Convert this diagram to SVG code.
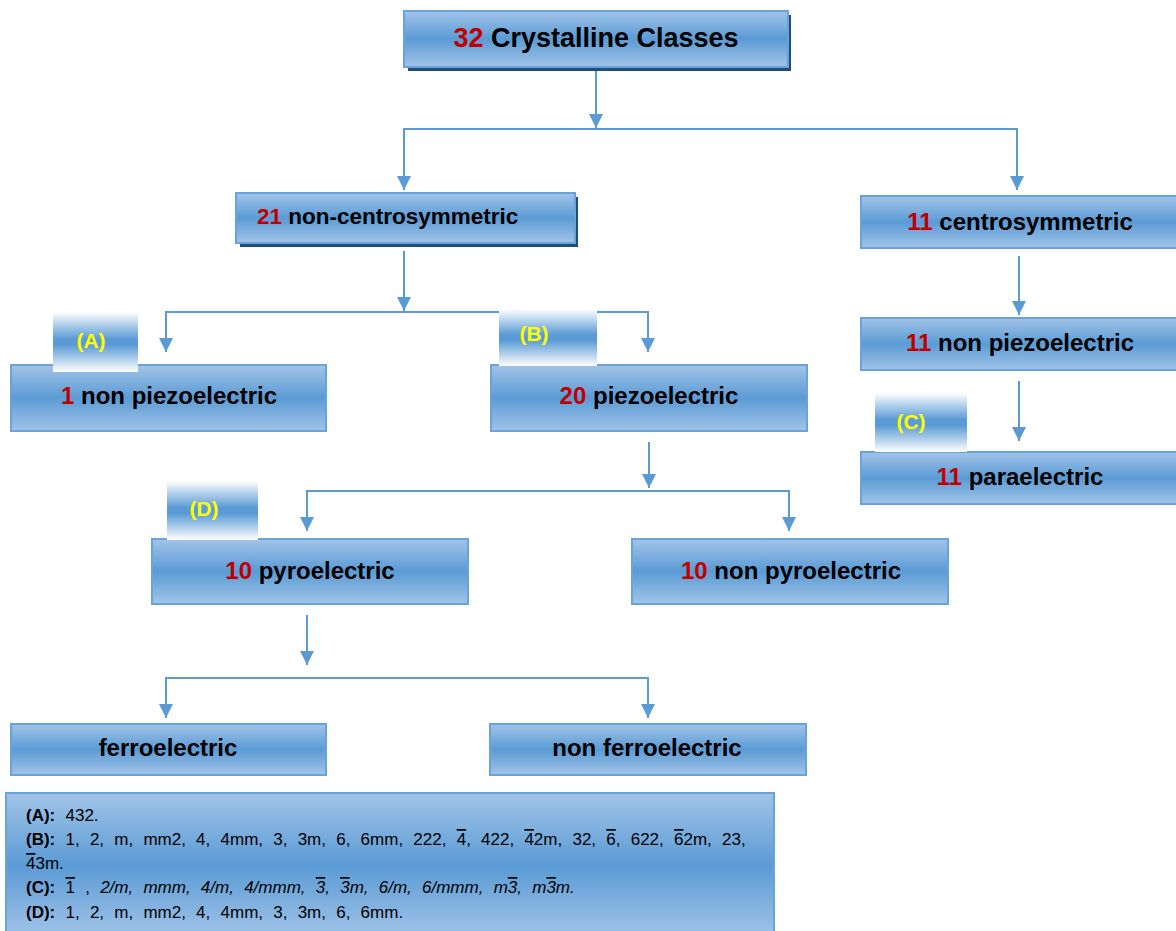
<svg xmlns="http://www.w3.org/2000/svg" width="1176" height="931" viewBox="0 0 1176 931">
<defs>
<linearGradient id="boxg" x1="0" y1="0" x2="0" y2="1">
<stop offset="0" stop-color="#a2c4e8"/>
<stop offset="0.5" stop-color="#5b9bd5"/>
<stop offset="1" stop-color="#a2c4e8"/>
</linearGradient>
<linearGradient id="labg" x1="0" y1="0" x2="0" y2="1">
<stop offset="0" stop-color="#ffffff"/>
<stop offset="0.45" stop-color="#5b9bd5"/>
<stop offset="0.55" stop-color="#5b9bd5"/>
<stop offset="1" stop-color="#ffffff"/>
</linearGradient>
<marker id="arr" markerUnits="userSpaceOnUse" markerWidth="16" markerHeight="16" refX="14" refY="7" orient="auto">
<path d="M0,0 L14,7 L0,14 Z" fill="#5b9bd5"/>
</marker>
</defs>
<style>
.box{fill:url(#boxg);stroke:#6aa3d9;stroke-width:2}
.shadow{fill:#1f4e79}
.lab{fill:url(#labg)}
.t{font-family:"Liberation Sans",Arial,sans-serif;font-weight:bold;fill:#000;text-anchor:middle;font-size:24px}
.n{fill:#c00000}
.y{font-family:"Liberation Sans",Arial,sans-serif;font-weight:bold;fill:#ffff00;font-size:21px;text-anchor:middle}
.c{fill:none;stroke:#5b9bd5;stroke-width:2}
.lg{font-family:"Liberation Sans",Arial,sans-serif;font-size:17px;fill:#000;word-spacing:5.5px}
.b{font-weight:bold}
.i{font-style:italic}
.o{text-decoration:overline}
</style>

<g id="connectors">
<path class="c" d="M596,69 V128" marker-end="url(#arr)"/>
<path class="c" d="M404,190 V129 H1017 V190" marker-end="url(#arr)"/>
<path class="c" d="M404,129 V190" marker-end="url(#arr)"/>
<path class="c" d="M404,251 V311" marker-end="url(#arr)"/>
<path class="c" d="M166,352 V312 H648 V352" marker-end="url(#arr)"/>
<path class="c" d="M166,312 V352" marker-end="url(#arr)"/>
<path class="c" d="M1019,256 V315" marker-end="url(#arr)"/>
<path class="c" d="M1019,381 V441" marker-end="url(#arr)"/>
<path class="c" d="M649,442 V488" marker-end="url(#arr)"/>
<path class="c" d="M307,531 V491 H789 V531" marker-end="url(#arr)"/>
<path class="c" d="M307,491 V531" marker-end="url(#arr)"/>
<path class="c" d="M307,615 V665" marker-end="url(#arr)"/>
<path class="c" d="M166,718 V678 H648 V718" marker-end="url(#arr)"/>
<path class="c" d="M166,678 V718" marker-end="url(#arr)"/>
</g>

<g id="n-32">
<rect class="shadow" x="408" y="15" width="383" height="56"/>
<rect class="box" x="404" y="11" width="384" height="56"/>
<text class="t" x="596" y="47" style="font-size:27px"><tspan class="n">32</tspan> Crystalline Classes</text>
</g>

<g id="n-21">
<rect class="shadow" x="240" y="197" width="338" height="50"/>
<rect class="box" x="236" y="193" width="339" height="50"/>
<text class="t" x="257" y="224" style="text-anchor:start;font-size:22.5px"><tspan class="n">21</tspan> non-centrosymmetric</text>
</g>

<g id="n-11c">
<rect class="box" x="861" y="196" width="320" height="52"/>
<text class="t" x="1020" y="230"><tspan class="n">11</tspan> centrosymmetric</text>
</g>

<g id="n-11np">
<rect class="box" x="861" y="318" width="320" height="52"/>
<text class="t" x="1020" y="351"><tspan class="n">11</tspan> non piezoelectric</text>
</g>

<g id="n-11pa">
<rect class="box" x="861" y="452" width="320" height="52"/>
<text class="t" x="1020" y="485"><tspan class="n">11</tspan> paraelectric</text>
</g>
<g id="lab-C">
<rect class="lab" x="875" y="393" width="92" height="59"/>
<text class="y" x="911" y="429">(C)</text>
</g>

<g id="n-1np">
<rect class="box" x="11" y="365" width="315" height="66"/>
<text class="t" x="169" y="404"><tspan class="n">1</tspan> non piezoelectric</text>
</g>
<g id="lab-A">
<rect class="lab" x="53" y="312" width="85" height="60"/>
<text class="y" x="91" y="348">(A)</text>
</g>

<g id="n-20">
<rect class="box" x="491" y="365" width="316" height="66"/>
<text class="t" x="649" y="404"><tspan class="n">20</tspan> piezoelectric</text>
</g>
<g id="lab-B">
<rect class="lab" x="499" y="309" width="98" height="57"/>
<text class="y" x="534" y="341">(B)</text>
</g>

<g id="n-10p">
<rect class="box" x="152" y="539" width="316" height="65"/>
<text class="t" x="310" y="579"><tspan class="n">10</tspan> pyroelectric</text>
</g>
<g id="lab-D">
<rect class="lab" x="167" y="481" width="91" height="59"/>
<text class="y" x="204" y="516">(D)</text>
</g>

<g id="n-10np">
<rect class="box" x="632" y="539" width="316" height="65"/>
<text class="t" x="791" y="579"><tspan class="n">10</tspan> non pyroelectric</text>
</g>

<g id="n-ferro">
<rect class="box" x="11" y="724" width="315" height="51"/>
<text class="t" x="168" y="756">ferroelectric</text>
</g>

<g id="n-nonferro">
<rect class="box" x="490" y="724" width="316" height="51"/>
<text class="t" x="647" y="756">non ferroelectric</text>
</g>

<g id="legend">
<rect class="box" x="6" y="793" width="768" height="145"/>
<text class="lg" x="26" y="821"><tspan class="b">(A):</tspan> 432.</text>
<text class="lg" x="26" y="845"><tspan class="b">(B):</tspan> 1, 2, m, mm2, 4, 4mm, 3, 3m, 6, 6mm, 222, <tspan class="o">4</tspan>, 422, <tspan class="o">4</tspan>2m, 32, <tspan class="o">6</tspan>, 622, <tspan class="o">6</tspan>2m, 23,</text>
<text class="lg" x="26" y="869"><tspan class="o">4</tspan>3m.</text>
<text class="lg" x="26" y="893"><tspan class="b">(C):</tspan> <tspan class="o">1</tspan> , <tspan class="i">2/m, mmm, 4/m, 4/mmm,  <tspan class="o">3</tspan>, <tspan class="o">3</tspan>m, 6/m, 6/mmm, m<tspan class="o">3</tspan>, m<tspan class="o">3</tspan>m.</tspan></text>
<text class="lg" x="26" y="918"><tspan class="b">(D):</tspan> 1, 2, m, mm2, 4, 4mm, 3, 3m, 6, 6mm.</text>
</g>
</svg>
